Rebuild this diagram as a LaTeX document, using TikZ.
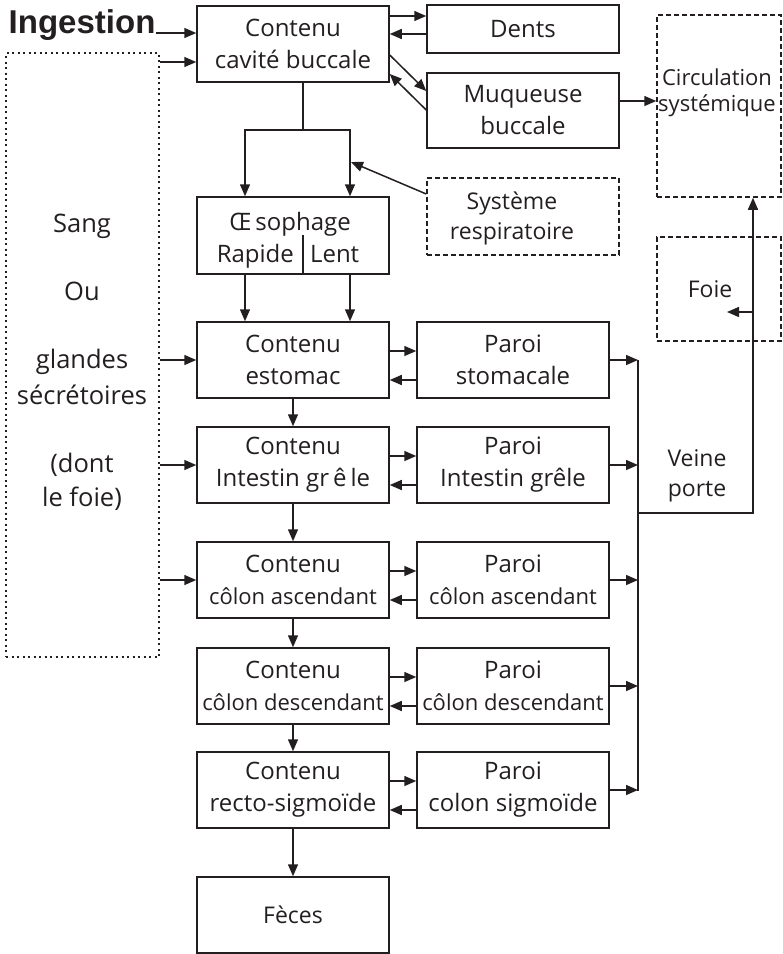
\documentclass[tikz,border=0pt]{standalone}
\usepackage{fontspec}
\setmainfont{Open Sans}
\newfontfamily\headfont{Liberation Sans}
\usetikzlibrary{arrows.meta}
\definecolor{ink}{RGB}{35,31,32}
\newcommand\serre[1]{{\fontsize{22}{32}\selectfont #1}}
\tikzset{
  flow/.style={x=1pt,y=-1pt,line width=1.5pt,color=ink,font=\fontsize{24}{32}\selectfont,
    >={Triangle[length=12pt,width=10pt]}},
  box/.style={draw,minimum width=192pt,minimum height=76pt,align=center,inner sep=0pt},
  dashbox/.style={draw,dash pattern=on 5pt off 3pt,inner sep=0pt},
  dotbox/.style={draw,dash pattern=on 2pt off 3.5pt,inner sep=0pt}
}

\begin{document}
\begin{tikzpicture}[flow]
    \useasboundingbox (0,0) rectangle (783,954);
    \node[anchor=base west,inner sep=0pt,font=\headfont\bfseries\fontsize{33}{33}\selectfont] (ingest) at (8,33) {Ingestion};
    % bouche
    \node[box] (cav) at (293,44) {Contenu\\cavité buccale};
    \node[box,minimum height=48pt] (dents) at (523,29) {Dents};
    \node[box,minimum height=75pt] (muq) at (523,110.5) {Muqueuse\\buccale};
    \node[dashbox,minimum width=124pt,minimum height=182pt] (circ) at (719,106) {};
    \node[align=center,font=\fontsize{22}{26}\selectfont] at (717,93) {Circulation\\systémique};
    \node[dashbox,minimum width=192pt,minimum height=77pt] (resp) at (523,216.5) {};
    \node[align=center,font=\fontsize{23}{30}\selectfont] at (512,218) {Système\\respiratoire};
    \node[dashbox,minimum width=124pt,minimum height=104pt] (foie) at (719,289) {};
    \node[font=\fontsize{23}{28}\selectfont] at ([xshift=-9pt]foie.center) {Foie};
    \node[dotbox,minimum width=153pt,minimum height=604pt] (sang) at (82.5,355) {};
    \foreach \yy/\txt in {232/Sang,300/Ou,368/glandes,404/sécrétoires,472/{(dont},506/{le foie)}}
      \node[anchor=base,font=\fontsize{25.5}{30}\selectfont] at (82,\yy) {\txt};

    \draw[->] (ingest.base east) -- (cav.west |- ingest.base east);
    \draw[->] (sang.east |- 0,62) -- (cav.west |- 0,62);
    \draw[->] (cav.east |- 0,16) -- (dents.west |- 0,16);
    \draw[->] (dents.west |- 0,34) -- (cav.east |- 0,34);
    \draw[->] (cav.east |- 0,55) -- (muq.west |- 0,91);
    \draw[->] (muq.west |- 0,110) -- (cav.east |- 0,74);
    \draw[->] (muq.east |- 0,101) -- (circ.west |- 0,101);

    % oesophage
    \node[box,minimum height=77pt] (oes) at (293,235.5) {};
    \node[anchor=base] at (290,230) {Œ\,sophage};
    \node[anchor=base east] at (298,262) {Rapide};
    \node[anchor=base west] at (306,262) {Lent};
    \draw (303,235) -- (303,274);
    \coordinate (split) at (303,130);
    \draw (split |- cav.south) -- (split);
    \draw[->] (split) -| ([xshift=-48pt]oes.north);
    \draw[->] (split) -| ([xshift=57pt]oes.north);
    \draw[->] (resp.west |- 0,194) -- (351,162);

    % contenus et parois
    \foreach \k/\yy/\ctxt/\ptxt in {est/360/estomac/stomacale,
        ig/465/Intestin gr\,ê\,le/Intestin grêle,
        ca/580/{\serre{côlon ascendant}}/{\serre{côlon ascendant}},
        cd/686/{\serre{côlon descendant}}/{\serre{côlon descendant}},
        rs/790/recto-sigmoïde/colon sigmoïde}
    {
      \node[box] (c\k) at (293,\yy) {Contenu\\\ctxt};
      \node[box] (p\k) at (513,\yy) {Paroi\\\ptxt};
      \draw[->] ([yshift=9pt]c\k.east) -- ([yshift=9pt]p\k.west);
      \draw[->] ([yshift=-20pt]p\k.west) -- ([yshift=-20pt]c\k.east);
      \draw[->] (p\k.east) -- (638,\yy);
    }
    \node[box,font=\fontsize{23}{28}\selectfont] (feces) at (293,915) {Fèces};
    \draw[->] ([xshift=-48pt]oes.south) -- ([xshift=-48pt]cest.north);
    \draw[->] ([xshift=57pt]oes.south) -- ([xshift=57pt]cest.north);
    \foreach \a/\b in {cest/cig,cig/cca,cca/ccd,ccd/crs,crs/feces}
      \draw[->] (\a.south) -- (\b.north);
    \foreach \k in {est,ig,ca}
      \draw[->] (sang.east |- c\k) -- (c\k.west);

    % veine porte
    \coordinate (vptop) at (638,360);
    \coordinate (vpbot) at (638,791);
    \draw (vptop) -- (vpbot);
    \draw[->] (vptop |- 0,513) -| ([xshift=34pt]circ.south);
    \draw[->] (753,312) -- (727,312);
    \node[align=center,font=\fontsize{23}{30}\selectfont] at (697,476) {Veine\\porte};
\end{tikzpicture}
\end{document}
